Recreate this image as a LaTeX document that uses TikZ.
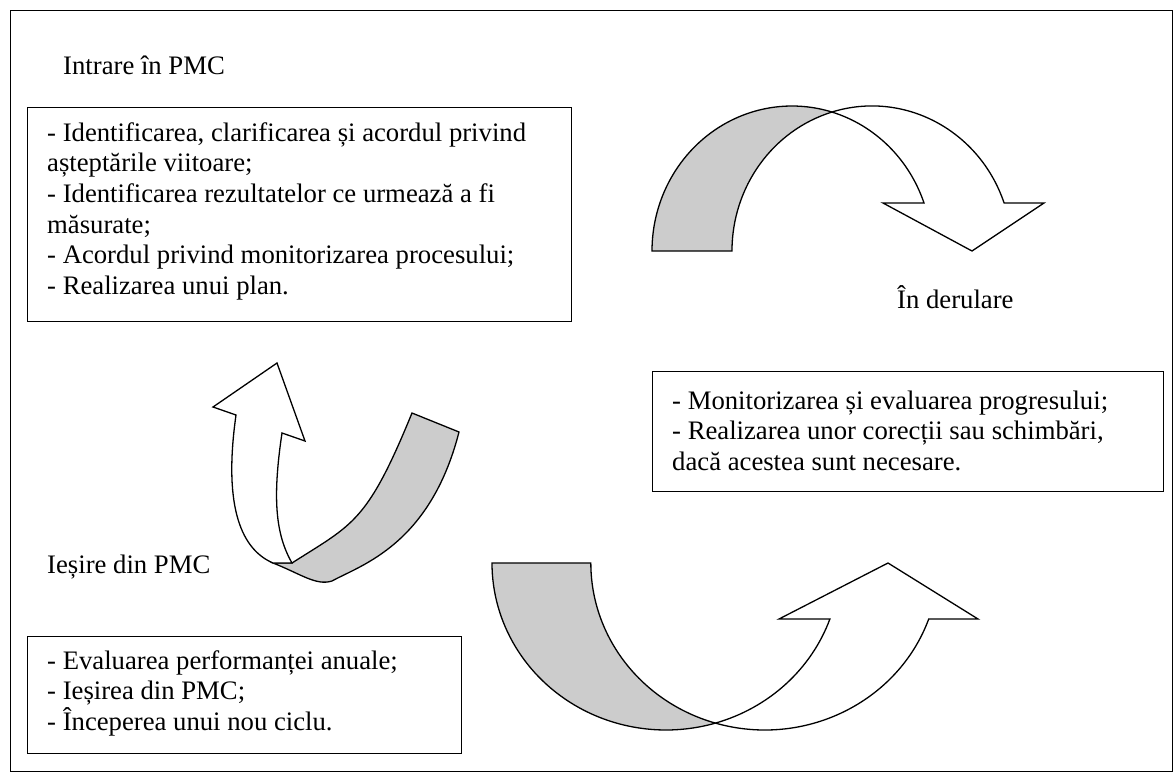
\documentclass[tikz,border=0pt]{standalone}
\usepackage{fontspec}
\setmainfont{Liberation Serif}
\begin{document}
\begin{tikzpicture}[x=1pt,y=-1pt,
  frame/.style={draw, line width=1.2pt, inner sep=0pt, anchor=north west},
  txt/.style={inner sep=0pt, anchor=north west, align=left,
    font=\fontsize{26.7}{30.7}\selectfont},
  caption/.style={inner sep=0pt, anchor=base west,
    font=\fontsize{26.7}{30.7}\selectfont},
  back/.style={draw, line width=1.3pt, fill=black!20, line join=miter},
  front/.style={draw, line width=1.3pt, fill=white, line join=miter}]
\useasboundingbox (0,0) rectangle (1176,777);

% outer frame
\node[frame, minimum width=1162, minimum height=761] (page) at (10,10) {};

% stage captions
\node[caption] (lin) at (63,74) {Intrare în PMC};
\node[caption] (lrun) at (897,308) {În derulare};
\node[caption] (lout) at (47,573) {Ieșire din PMC};

% text panels
\node[frame, minimum width=544, minimum height=214] (b1) at (27,107) {};
\node[txt] (t1) at (47,119.5) {\strut - Identificarea, clarificarea și acordul privind\\
așteptările viitoare;\\
- Identificarea rezultatelor ce urmează a fi\\
măsurate;\\
- Acordul privind monitorizarea procesului;\\
- Realizarea unui plan.};

\node[frame, minimum width=511, minimum height=120] (b2) at (652,371) {};
\node[txt] (t2) at (672,387.5) {\strut - Monitorizarea și evaluarea progresului;\\
- Realizarea unor corecții sau schimbări,\\
dacă acestea sunt necesare.};

\node[frame, minimum width=434, minimum height=117] (b3) at (27,636) {};
\node[txt] (t3) at (47,647.5) {\strut - Evaluarea performanței anuale;\\
- Ieșirea din PMC;\\
- Începerea unui nou ciclu.};

% curved arrow, top right (turning down)
\path[back] (652,251)
  arc[start angle=-180, end angle=-73.4, x radius=140, y radius=145]
  arc[start angle=-106.6, end angle=-180, x radius=140, y radius=145] -- cycle;
\path[front] (832,112)
  arc[start angle=-106.6, end angle=-19.33, x radius=140, y radius=145]
  -- (1044,203) -- (972,251) -- (883,203) -- (924,203)
  arc[start angle=-19.33, end angle=-73.4, x radius=140, y radius=145] -- cycle;

% curved arrow, bottom (turning up)
\path[back] (492,563)
  arc[start angle=180, end angle=73.5, x radius=174, y radius=167]
  arc[start angle=106.5, end angle=180, x radius=174, y radius=167] -- cycle;
\path[front] (715.4,723.1)
  arc[start angle=106.5, end angle=19.6, x radius=174, y radius=167]
  -- (978,619) -- (888,563) -- (779,619) -- (829.9,619)
  arc[start angle=19.6, end angle=73.5, x radius=174, y radius=167] -- cycle;

% curved arrow, left (turning up-left)
\path[back] (273,563) .. controls (301,574) and (316,586) .. (332,581)
  .. controls (361,565) and (430,545) .. (459,432)
  -- (412,413) .. controls (367,523) and (353,524) .. (292,563) -- cycle;
\path[front] (273,563) -- (292,563) .. controls (276,535) and (272,500) .. (282,433)
  -- (305,441) -- (277,363) -- (213,407) -- (236,415)
  .. controls (224,500) and (238,548) .. (273,563) -- cycle;
\end{tikzpicture}
\end{document}
